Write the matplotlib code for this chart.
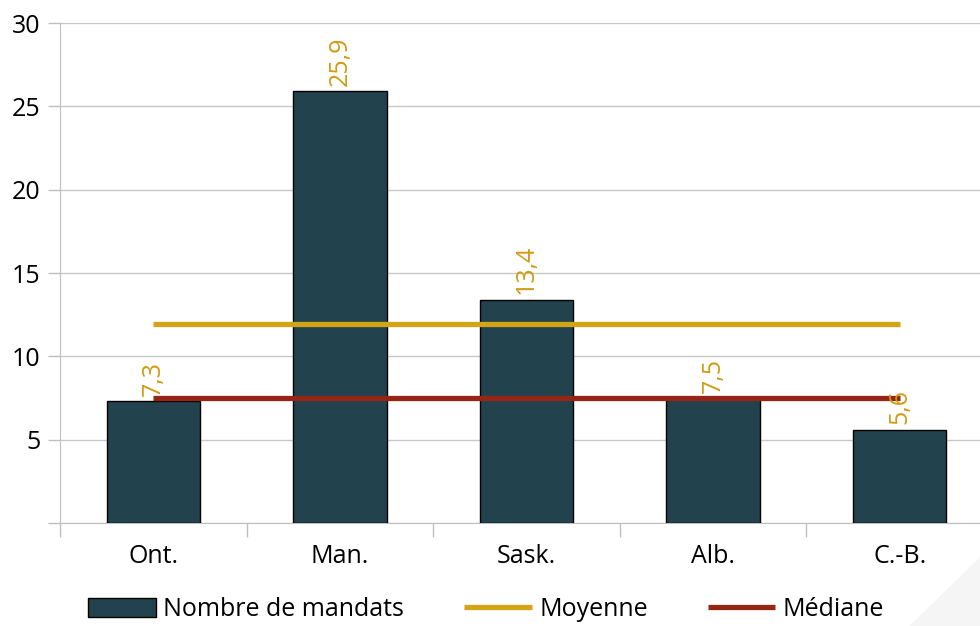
import numpy as np
import matplotlib.pyplot as plt
from matplotlib.patches import Polygon

plt.rcParams['font.family'] = ['Open Sans', 'DejaVu Sans']

# Data
provinces = ['Ont.', 'Man.', 'Sask.', 'Alb.', 'C.-B.']
mandats = [7.3, 25.9, 13.4, 7.5, 5.6]
moyenne = np.mean(mandats)
mediane = np.median(mandats)

bar_color = '#22434d'
mean_color = '#d4a418'
median_color = '#952515'
label_color = '#d19b12'

fig = plt.figure(figsize=(9.8, 6.26), dpi=100)

# faint corner decoration
fig.patches.append(Polygon([[0.928, 0.0], [1.0, 0.11], [1.0, 0.0]], closed=True,
                           transform=fig.transFigure, facecolor='#f4f5f4',
                           edgecolor='none', zorder=0))

ax = fig.add_axes([0.0612, 0.1645, 0.952, 0.7985])
x = np.arange(len(provinces))

bars = ax.bar(x, mandats, width=0.5, color=bar_color, edgecolor='black',
              linewidth=1, zorder=3, label='Nombre de mandats')
l1, = ax.plot([x[0], x[-1]], [moyenne, moyenne], color=mean_color, lw=3.8,
              zorder=4, label='Moyenne', solid_capstyle='butt')
l2, = ax.plot([x[0], x[-1]], [mediane, mediane], color=median_color, lw=3.8,
              zorder=4, label='Médiane', solid_capstyle='butt')

for xi, v in zip(x, mandats):
    ax.annotate(f'{v:.1f}'.replace('.', ','), (xi, v), xytext=(0, 4),
                textcoords='offset points', rotation=90, ha='center',
                va='bottom', color=label_color, fontsize=18, zorder=5)

ax.set_xlim(-0.5, 4.5)
ax.set_ylim(0, 30)
ax.set_yticks([0, 5, 10, 15, 20, 25, 30])
ax.set_yticklabels(['', '5', '10', '15', '20', '25', '30'])
ax.set_xticks(x)
ax.set_xticklabels(provinces)
ax.set_xticks(np.arange(-0.5, 5, 1), minor=True)
ax.tick_params(axis='x', which='major', length=0, pad=15, labelsize=18)
ax.tick_params(axis='x', which='minor', length=10, width=1, color='#bfbfbf')
ax.tick_params(axis='y', length=9, width=1, color='#bfbfbf', labelsize=18, pad=5)
ax.grid(axis='y', color='#c8c8c8', lw=1, zorder=0)

for side in ['top', 'right']:
    ax.spines[side].set_visible(False)
ax.spines['left'].set_color('#bfbfbf')
ax.spines['bottom'].set_color('#bfbfbf')

fig.legend(handles=[bars, l1, l2], loc='center left', bbox_to_anchor=(0.09, 0.026),
           ncol=3, frameon=False, fontsize=18, handlelength=2.7, handleheight=0.75,
           columnspacing=2.4, handletextpad=0.3, borderpad=0, borderaxespad=0)

plt.savefig('out.png', dpi=100)
